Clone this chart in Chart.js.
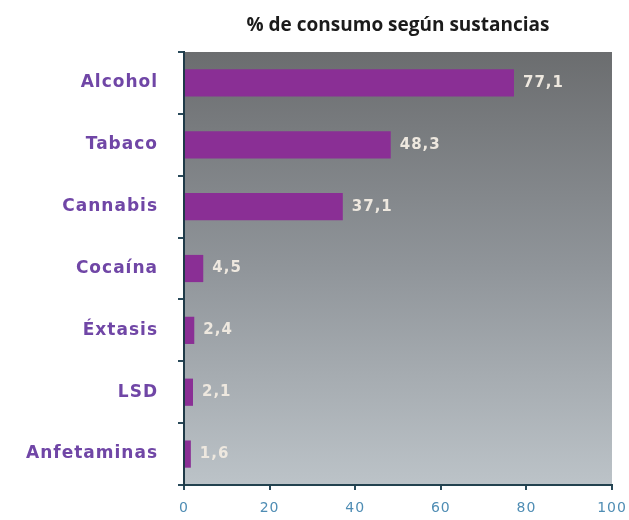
<!DOCTYPE html>
<html>
<head>
<meta charset="utf-8">
<script src="https://cdn.jsdelivr.net/npm/chart.js@4"></script>
<style>
  html, body { margin: 0; padding: 0; background: #ffffff; }
  #wrap { width: 629px; height: 520px; }
</style>
</head>
<body>
<div id="wrap"><canvas id="chart" width="629" height="520"></canvas></div>
<script>
const sustancias = ['Alcohol', 'Tabaco', 'Cannabis', 'Cocaína', 'Éxtasis', 'LSD', 'Anfetaminas'];
const consumo = [77.1, 48.3, 37.1, 4.5, 2.4, 2.1, 1.6];
const xTicks = [0, 20, 40, 60, 80, 100];
const titulo = '% de consumo según sustancias';

// fondo degradado del area del grafico
const fondo = {
    id: 'fondo',
    beforeDraw(chart) {
        const { ctx, chartArea: a } = chart;
        const g = ctx.createLinearGradient(0, a.top, 0, a.bottom);
        g.addColorStop(0, '#6b6d6f');
        g.addColorStop(0.5, '#90959a');
        g.addColorStop(1, '#bcc3c8');
        ctx.save();
        ctx.fillStyle = g;
        ctx.fillRect(a.left, a.top, a.right - a.left, a.bottom - a.top);
        ctx.restore();
        ctx.letterSpacing = '1px';
    },
    afterDraw(chart) {
        const { ctx, chartArea: a } = chart;
        ctx.letterSpacing = '0px';
        ctx.save();
        ctx.font = 'bold 19px "Open Sans"';
        ctx.fillStyle = '#1b1b1b';
        ctx.textAlign = 'center';
        ctx.textBaseline = 'middle';
        ctx.fillText(titulo, (a.left + a.right) / 2, 26);
        ctx.restore();
    }
};

// valores al final de cada barra
const etiquetas = {
    id: 'etiquetas',
    afterDatasetsDraw(chart) {
        const { ctx } = chart;
        const meta = chart.getDatasetMeta(0);
        ctx.save();
        ctx.letterSpacing = '1px';
        ctx.font = 'bold 15px "DejaVu Sans"';
        ctx.fillStyle = '#eee8df';
        ctx.textAlign = 'left';
        ctx.textBaseline = 'middle';
        meta.data.forEach((bar, i) => {
            ctx.fillText(consumo[i].toFixed(1).replace('.', ','), bar.x + 9, bar.y);
        });
        ctx.restore();
    }
};

new Chart(document.getElementById('chart').getContext('2d'), {
    type: 'bar',
    data: {
        labels: sustancias,
        datasets: [{
            data: consumo,
            backgroundColor: '#8a2f95',
            borderWidth: 0,
            barPercentage: 0.44,
            categoryPercentage: 1
        }]
    },
    options: {
        indexAxis: 'y',
        responsive: false,
        animation: false,
        layout: { padding: { top: 52, right: 17, left: 0, bottom: 0 } },
        plugins: {
            legend: { display: false },
            title: { display: false },
            tooltip: { enabled: false }
        },
        scales: {
            x: {
                min: 0,
                max: 100,
                afterBuildTicks(scale) { scale.ticks = xTicks.map(v => ({ value: v })); },
                afterFit(scale) {
                    scale.height = 35;
                    scale.paddingLeft = 0;
                    scale.paddingRight = 0;
                },
                grid: { drawOnChartArea: false, tickLength: 5, color: '#2a4a5a', lineWidth: 2 },
                border: { color: '#23424f', width: 2 },
                ticks: { color: '#4f8db4', font: { family: 'DejaVu Sans', size: 14 }, padding: 10, maxRotation: 0 }
            },
            y: {
                afterFit(scale) { scale.width = 184; },
                grid: { drawOnChartArea: false, tickLength: 6, color: '#2a4a5a', lineWidth: 2 },
                border: { color: '#1f3a48', width: 2 },
                ticks: { color: '#7046a6', font: { family: 'DejaVu Sans', size: 17, weight: 'bold' }, padding: 20 }
            }
        }
    },
    plugins: [fondo, etiquetas]
});
</script>
</body>
</html>
